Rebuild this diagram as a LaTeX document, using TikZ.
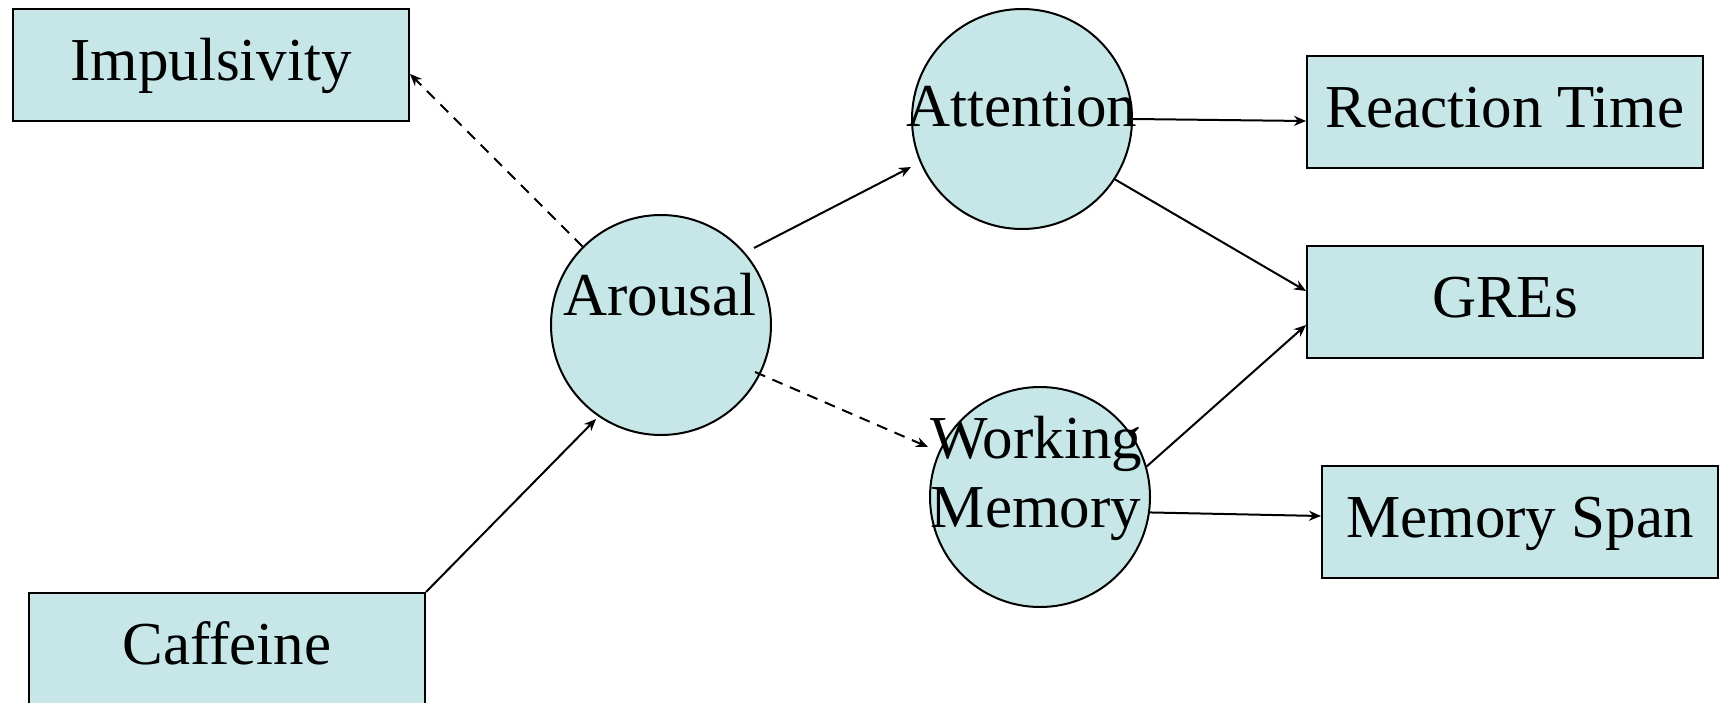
\documentclass[tikz,border=0pt]{standalone}
\usepackage{fontspec}
\setmainfont{Liberation Serif}
\usetikzlibrary{arrows.meta,calc}
\definecolor{nodefill}{RGB}{198,230,232}
\begin{document}
\begin{tikzpicture}[x=0.5pt,y=-0.5pt,
  box/.style={draw, line width=1pt, fill=nodefill, minimum width=198pt, minimum height=56pt, inner sep=0pt, text height=20pt, text depth=4.5pt, font=\fontsize{30.5}{34.5}\selectfont},
  circ/.style={draw, line width=1pt, fill=nodefill, circle, minimum size=110pt, inner sep=0pt},
  lbl/.style={font=\fontsize{30.5}{34.5}\selectfont, inner sep=0pt, anchor=base, align=center},
  arr/.style={line width=1pt, -{Stealth[length=6pt,width=5pt]}},
  dsh/.style={arr, dash pattern=on 5.5pt off 4pt}]
\useasboundingbox (0,0) rectangle (1724,702);
\node[box] (imp) at (211,65) {Impulsivity};
\node[box] (caff) at (227,649) {Caffeine};
\node[box] (rt) at (1505,112) {Reaction Time};
\node[box] (gre) at (1505,302) {GREs};
\node[box] (ms) at (1520,522) {Memory Span};
\node[circ] (arousal) at (661,325) {};
\node[circ] (att) at (1022,119) {};
\node[circ] (wm) at (1040,497) {};
\node[lbl] (arousalT) at (660,315) {Arousal};
\node[lbl] (attT) at (1022,126) {Attention};
\node[lbl] (wmT) at (1036,527) {Working\\Memory};
\draw[dsh] (arousal) -- ([yshift=-4.5pt]imp.east);
\draw[arr] ($(arousal.center)+(93,-77)$) -- ($(att.center)+(-111,48)$);
\draw[arr] (att.east) -- ([yshift=-4.5pt]rt.west);
\draw[arr] (att.-33) -- ([yshift=5.5pt]gre.west);
\draw[arr] (wm.16) -- ([yshift=-11.5pt]gre.west);
\draw[arr] (wm.-8) -- ([yshift=3pt]ms.west);
\draw[dsh] ($(arousal.center)+(94,47)$) -- ($(wm.center)+(-112,-50)$);
\draw[arr] (caff.north east) -- ($(arousal.center)+(-65,94)$);
\end{tikzpicture}
\end{document}
